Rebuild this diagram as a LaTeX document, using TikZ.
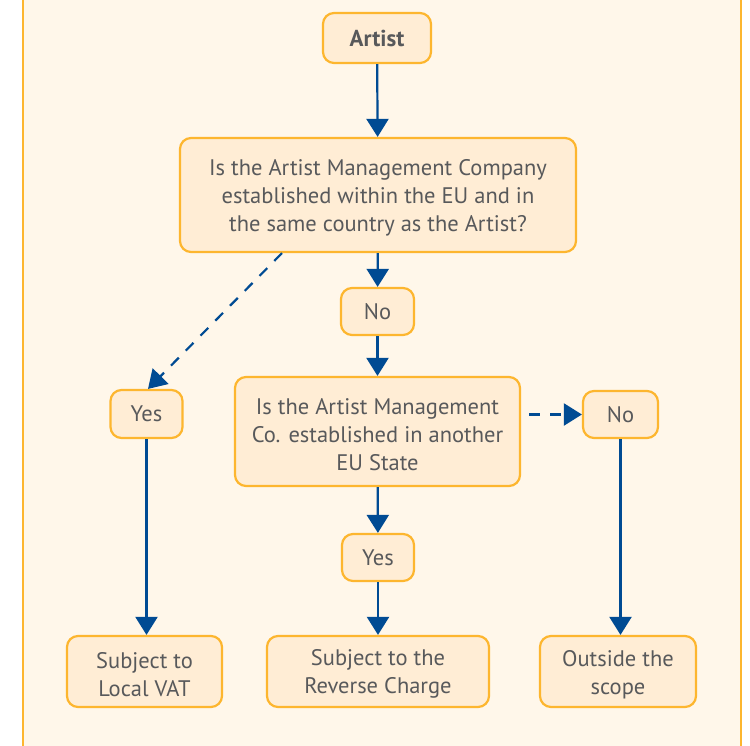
\documentclass[tikz,border=0pt]{standalone}
\usepackage{fontspec}
\setmainfont{PT Sans}
\usetikzlibrary{arrows.meta}
\definecolor{bgc}{HTML}{FFF7EA}
\definecolor{boxfill}{HTML}{FFEDD5}
\definecolor{boxline}{HTML}{FDB62F}
\definecolor{arr}{HTML}{004B93}
\definecolor{txt}{HTML}{58595B}
\newcommand\topstrut{\rule{0pt}{21.5pt}}
\begin{document}
\begin{tikzpicture}[x=1pt,y=-1pt,
  box/.style={draw=boxline,line width=2.2pt,fill=boxfill,rounded corners=11pt,text=txt,
    font=\fontsize{22.5}{28}\selectfont,align=center,inner sep=0pt,anchor=center},
  conn/.style={draw=arr,line width=2.2pt,-{Triangle[length=18pt,width=22pt]}},
  dconn/.style={conn,dash pattern=on 11pt off 10pt}]
\useasboundingbox (0,0) rectangle (750,746);
\fill[white] (0,0) rectangle (750,746);
\fill[bgc] (23,0) rectangle (741,746);
\draw[boxline,line width=1.2pt] (23,0) -- (23,746);
\draw[boxline,line width=1.2pt] (741,0) -- (741,746);

\node[box,minimum width=108pt,minimum height=50pt,font=\fontsize{23}{28}\selectfont\bfseries] (artist) at (377,38) {Artist};
\node[box,minimum width=396pt,minimum height=114pt] (q1) at (378,195) {\topstrut Is the Artist Management Company\\established within the EU and in\\the same country as the Artist?};
\node[box,minimum width=73pt,minimum height=47pt] (no1) at (377.5,311.5) {No};
\node[box,minimum width=72pt,minimum height=48pt] (yes1) at (146.5,414) {Yes};
\node[box,minimum width=285pt,minimum height=109pt] (q2) at (377.5,431.5) {\topstrut Is the Artist Management\\Co. established in another\\EU State};
\node[box,minimum width=75pt,minimum height=47pt] (no2) at (620.5,414.5) {No};
\node[box,minimum width=72pt,minimum height=47pt] (yes2) at (378,557.5) {Yes};
\node[box,minimum width=155pt,minimum height=71pt] (local) at (144.5,671.5) {\topstrut Subject to\\Local VAT};
\node[box,minimum width=222pt,minimum height=71pt] (rev) at (378,671.5) {\topstrut Subject to the\\Reverse Charge};
\node[box,minimum width=156pt,minimum height=71pt] (out) at (618,671.5) {\topstrut Outside the\\scope};

\draw[conn] (artist) -- (q1);
\draw[conn] (q1) -- (no1);
\draw[dconn] (q1.south -| 282,0) -- (yes1.north -| 148,0);
\draw[conn] (no1) -- (q2);
\draw[dconn] (q2.east |- no2.west) ++(8,0) -- (no2.west);
\draw[conn] (q2) -- (yes2);
\draw[conn] (yes1) -- (yes1 |- local.north);
\draw[conn] (yes2) -- (rev);
\draw[conn] (no2) -- (no2 |- out.north);
\end{tikzpicture}
\end{document}
